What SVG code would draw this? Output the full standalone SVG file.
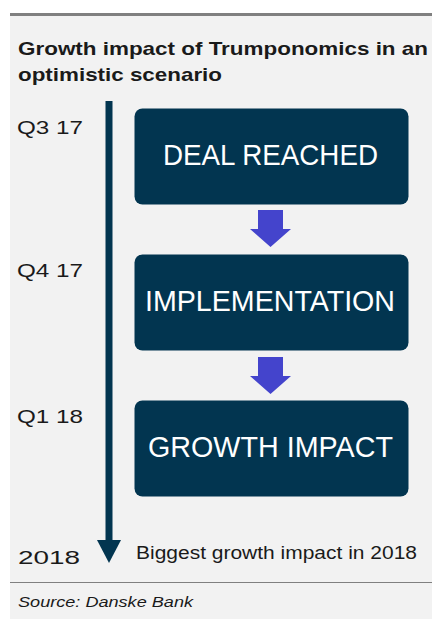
<svg xmlns="http://www.w3.org/2000/svg" width="432" height="619" viewBox="0 0 432 619">
  <style>
    .title { font-family: "Liberation Sans", Arial, sans-serif; font-weight: bold; font-size: 19px; fill: #1a1a1a; }
    .time { font-family: "Liberation Sans", Arial, sans-serif; font-size: 18.5px; fill: #1a1a1a; }
    .box { fill: #023550; }
    .boxtext { font-family: "Liberation Sans", Arial, sans-serif; font-size: 29px; fill: #ffffff; }
    .step { fill: #4444cc; }
    .note { font-family: "Liberation Sans", Arial, sans-serif; font-size: 17.5px; fill: #1a1a1a; }
    .source { font-family: "Liberation Sans", Arial, sans-serif; font-style: italic; font-size: 15px; fill: #1a1a1a; }
  </style>

  <!-- panel background and rules -->
  <rect x="10" y="16" width="422" height="603" fill="#f2f2f2"/>
  <rect x="10" y="13" width="422" height="3" fill="#808080"/>
  <line x1="10" y1="582.5" x2="432" y2="582.5" stroke="#808080" stroke-width="1"/>

  <!-- title -->
  <text class="title" x="18" y="55" textLength="410" lengthAdjust="spacingAndGlyphs">Growth impact of Trumponomics in an</text>
  <text class="title" x="18" y="81" textLength="204" lengthAdjust="spacingAndGlyphs">optimistic scenario</text>

  <!-- timeline labels -->
  <g id="time-labels">
    <text class="time" x="17" y="134" textLength="66" lengthAdjust="spacingAndGlyphs">Q3 17</text>
    <text class="time" x="17" y="277" textLength="66" lengthAdjust="spacingAndGlyphs">Q4 17</text>
    <text class="time" x="17" y="423" textLength="66" lengthAdjust="spacingAndGlyphs">Q1 18</text>
    <text class="time" x="18" y="564" textLength="62" lengthAdjust="spacingAndGlyphs">2018</text>
  </g>

  <!-- connectors -->
  <g id="connectors">
    <!-- timeline -->
    <rect x="105.5" y="101" width="7" height="441" fill="#023550"/>
    <polygon points="97,540 121,540 109,563" fill="#023550"/>
    <!-- step arrows -->
    <polygon class="step" points="258,210 283,210 283,229 291,229 270.5,247 250,229 258,229"/>
    <polygon class="step" points="258,357 283,357 283,376 291,376 270.5,394 250,376 258,376"/>
  </g>

  <g id="node-deal">
    <rect class="box" x="134.5" y="108.5" width="274" height="96" rx="8"/>
    <text class="boxtext" x="163" y="165" textLength="215" lengthAdjust="spacingAndGlyphs">DEAL REACHED</text>
  </g>
  <g id="node-implementation">
    <rect class="box" x="134.5" y="254.5" width="274" height="96" rx="8"/>
    <text class="boxtext" x="145" y="311" textLength="250" lengthAdjust="spacingAndGlyphs">IMPLEMENTATION</text>
  </g>
  <g id="node-growth">
    <rect class="box" x="134.5" y="400.5" width="274" height="96" rx="8"/>
    <text class="boxtext" x="148" y="457" textLength="245" lengthAdjust="spacingAndGlyphs">GROWTH IMPACT</text>
  </g>

  <text class="note" x="136" y="559" textLength="281" lengthAdjust="spacingAndGlyphs">Biggest growth impact in 2018</text>
  <text class="source" x="18" y="607" textLength="175" lengthAdjust="spacingAndGlyphs">Source: Danske Bank</text>
</svg>
